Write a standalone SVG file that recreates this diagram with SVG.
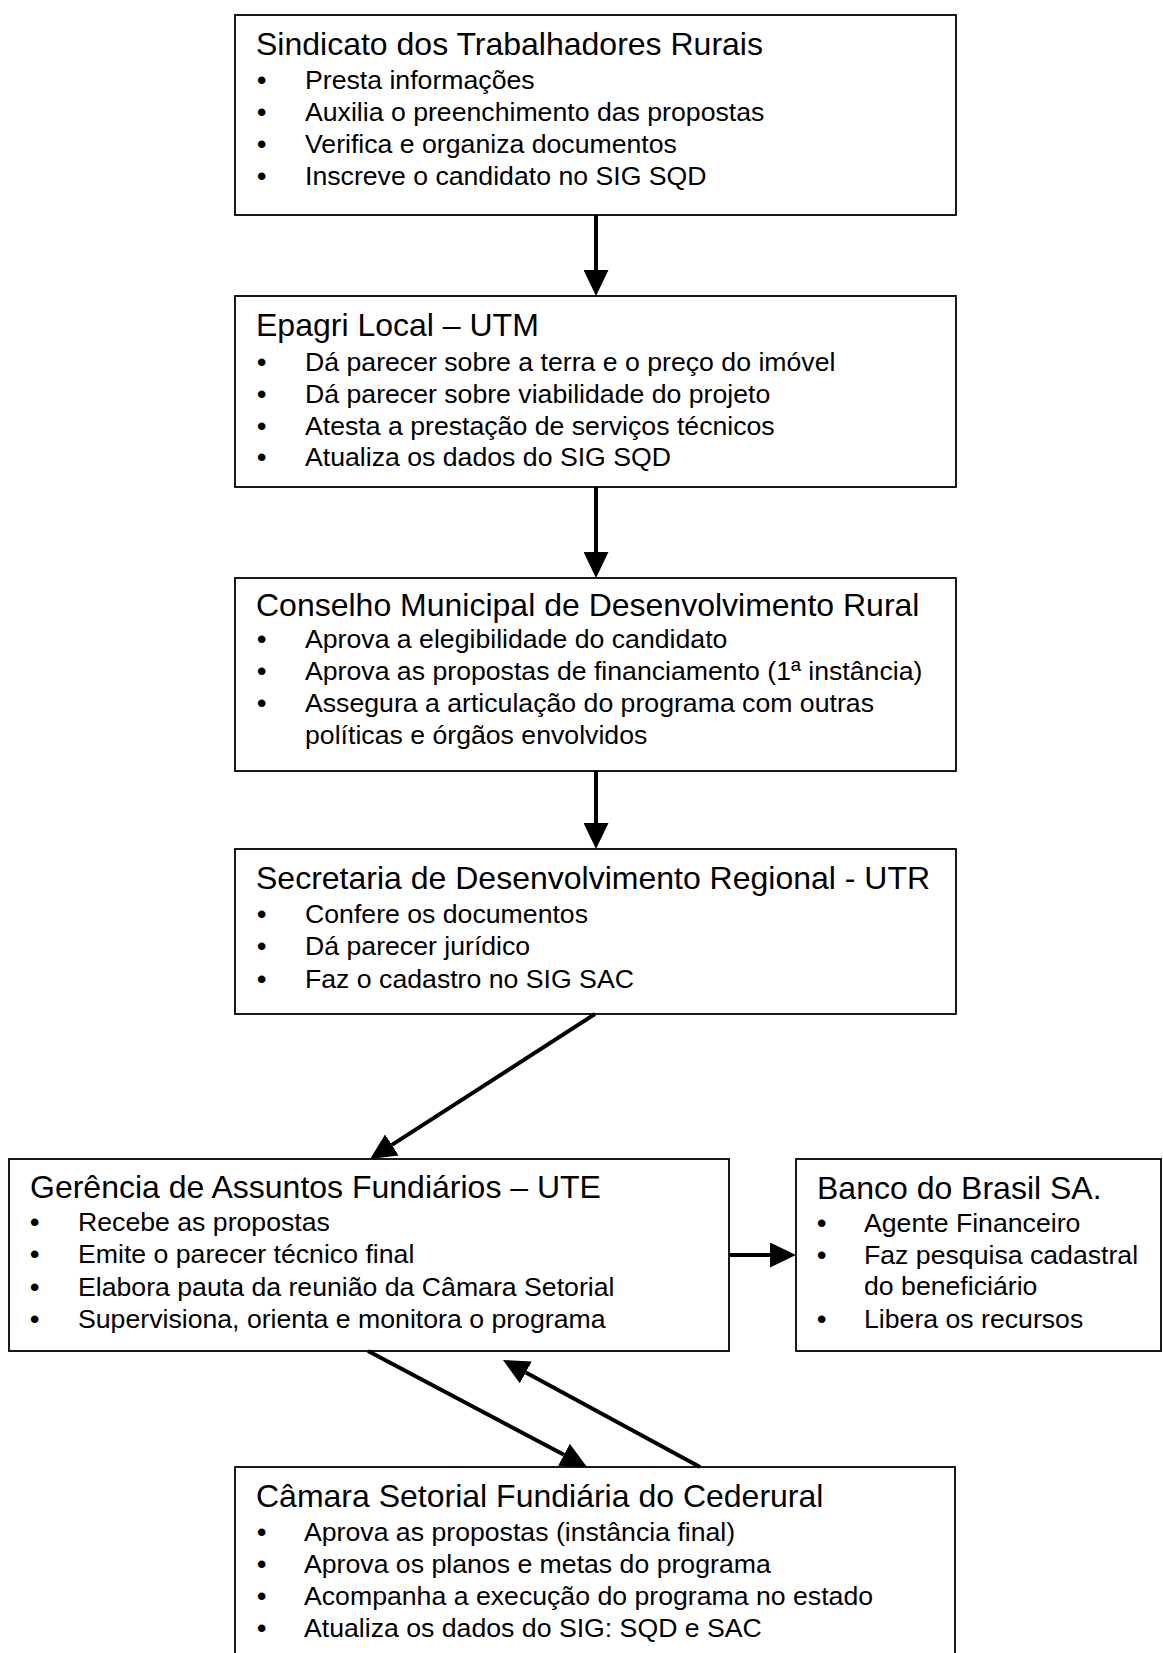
<svg xmlns="http://www.w3.org/2000/svg" width="1163" height="1653" viewBox="0 0 1163 1653">
<style>
.box{fill:#fff;stroke:#000;stroke-width:1.8}
.t{font-family:"Liberation Sans",Arial,sans-serif;font-size:32px;fill:#000}
.b{font-family:"Liberation Sans",Arial,sans-serif;font-size:26.67px;fill:#000}
.d{font-family:"Liberation Sans",Arial,sans-serif;font-size:26.67px;font-weight:bold;fill:#000}
.c{stroke:#000;stroke-width:4;fill:none}
</style>
<defs>
<marker id="ah" markerUnits="userSpaceOnUse" viewBox="0 0 26 25" refX="0" refY="12.5" markerWidth="26" markerHeight="25" orient="auto">
<path d="M0,0 L26,12.5 L0,25 Z" fill="#000"/>
</marker>
</defs>
<rect width="1163" height="1653" fill="#fff"/>

<g id="n1">
<rect class="box" x="235" y="15" width="721" height="200"/>
<text class="t" x="256" y="55">Sindicato dos Trabalhadores Rurais</text>
<text class="d" x="257" y="89">•</text><text class="b" x="305" y="89">Presta informações</text>
<text class="d" x="257" y="121">•</text><text class="b" x="305" y="121">Auxilia o preenchimento das propostas</text>
<text class="d" x="257" y="153">•</text><text class="b" x="305" y="153">Verifica e organiza documentos</text>
<text class="d" x="257" y="185">•</text><text class="b" x="305" y="185">Inscreve o candidato no SIG SQD</text>
</g>

<g id="n2">
<rect class="box" x="235" y="296" width="721" height="191"/>
<text class="t" x="256" y="336">Epagri Local – UTM</text>
<text class="d" x="257" y="371">•</text><text class="b" x="305" y="371">Dá parecer sobre a terra e o preço do imóvel</text>
<text class="d" x="257" y="403">•</text><text class="b" x="305" y="403">Dá parecer sobre viabilidade do projeto</text>
<text class="d" x="257" y="435">•</text><text class="b" x="305" y="435">Atesta a prestação de serviços técnicos</text>
<text class="d" x="257" y="466">•</text><text class="b" x="305" y="466">Atualiza os dados do SIG SQD</text>
</g>

<g id="n3">
<rect class="box" x="235" y="578" width="721" height="193"/>
<text class="t" x="256" y="616">Conselho Municipal de Desenvolvimento Rural</text>
<text class="d" x="257" y="648">•</text><text class="b" x="305" y="648">Aprova a elegibilidade do candidato</text>
<text class="d" x="257" y="680">•</text><text class="b" x="305" y="680">Aprova as propostas de financiamento (1ª instância)</text>
<text class="d" x="257" y="712">•</text><text class="b" x="305" y="712">Assegura a articulação do programa com outras</text>
<text class="b" x="305" y="744">políticas e órgãos envolvidos</text>
</g>

<g id="n4">
<rect class="box" x="235" y="849" width="721" height="165"/>
<text class="t" x="256" y="889">Secretaria de Desenvolvimento Regional - UTR</text>
<text class="d" x="257" y="923">•</text><text class="b" x="305" y="923">Confere os documentos</text>
<text class="d" x="257" y="955">•</text><text class="b" x="305" y="955">Dá parecer jurídico</text>
<text class="d" x="257" y="988">•</text><text class="b" x="305" y="988">Faz o cadastro no SIG SAC</text>
</g>

<g id="n5">
<rect class="box" x="9" y="1159" width="720" height="192"/>
<text class="t" x="30" y="1198">Gerência de Assuntos Fundiários – UTE</text>
<text class="d" x="30" y="1231">•</text><text class="b" x="78" y="1231">Recebe as propostas</text>
<text class="d" x="30" y="1263">•</text><text class="b" x="78" y="1263">Emite o parecer técnico final</text>
<text class="d" x="30" y="1296">•</text><text class="b" x="78" y="1296">Elabora pauta da reunião da Câmara Setorial</text>
<text class="d" x="30" y="1328">•</text><text class="b" x="78" y="1328">Supervisiona, orienta e monitora o programa</text>
</g>

<g id="n6">
<rect class="box" x="796" y="1159" width="365" height="192"/>
<text class="t" x="817" y="1199">Banco do Brasil SA.</text>
<text class="d" x="817" y="1232">•</text><text class="b" x="864" y="1232">Agente Financeiro</text>
<text class="d" x="817" y="1264">•</text><text class="b" x="864" y="1264">Faz pesquisa cadastral</text>
<text class="b" x="864" y="1295">do beneficiário</text>
<text class="d" x="817" y="1328">•</text><text class="b" x="864" y="1328">Libera os recursos</text>
</g>

<g id="n7">
<rect class="box" x="235" y="1467" width="720" height="200"/>
<text class="t" x="256" y="1507">Câmara Setorial Fundiária do Cederural</text>
<text class="d" x="257" y="1541">•</text><text class="b" x="304" y="1541">Aprova as propostas (instância final)</text>
<text class="d" x="257" y="1573">•</text><text class="b" x="304" y="1573">Aprova os planos e metas do programa</text>
<text class="d" x="257" y="1605">•</text><text class="b" x="304" y="1605">Acompanha a execução do programa no estado</text>
<text class="d" x="257" y="1637">•</text><text class="b" x="304" y="1637">Atualiza os dados do SIG: SQD e SAC</text>
</g>

<g id="connectors">
<line class="c" x1="596" y1="215" x2="596" y2="270" marker-end="url(#ah)"/>
<line class="c" x1="596" y1="487" x2="596" y2="552" marker-end="url(#ah)"/>
<line class="c" x1="596" y1="771" x2="596" y2="823" marker-end="url(#ah)"/>
<line class="c" x1="595" y1="1014" x2="391.9" y2="1144.9" marker-end="url(#ah)"/>
<line class="c" x1="729" y1="1255" x2="770" y2="1255" marker-end="url(#ah)"/>
<line class="c" x1="368" y1="1351" x2="564" y2="1454.8" marker-end="url(#ah)"/>
<line class="c" x1="700" y1="1467" x2="525.8" y2="1372.4" marker-end="url(#ah)"/>
</g>
</svg>
